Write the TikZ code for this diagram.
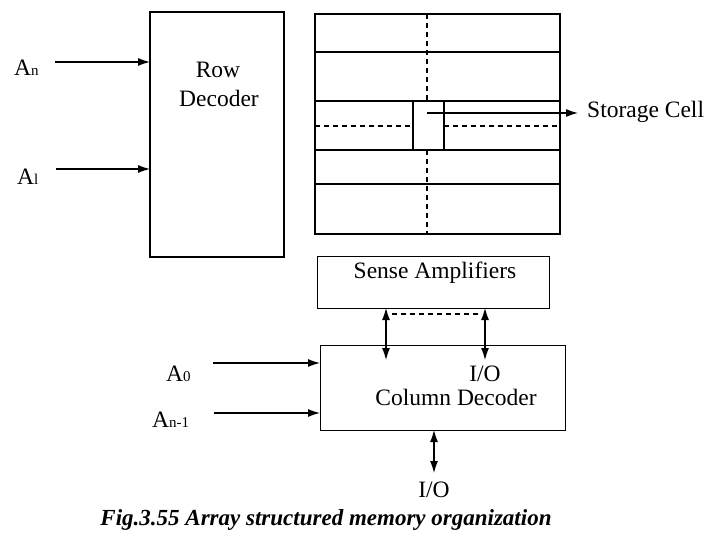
\documentclass[tikz,border=0pt]{standalone}
\usepackage{fontspec}
\setmainfont{Liberation Serif}
\usetikzlibrary{arrows.meta}
\begin{document}
\begin{tikzpicture}[x=1pt,y=-1pt,
  box/.style={draw,line width=1.1pt},
  lbl/.style={inner sep=0pt,font=\fontsize{23.5}{27}\selectfont},
  arr/.style={line width=1.1pt,-{Latex[length=12pt,width=8pt]}},
  darr/.style={line width=1.1pt,{Latex[length=12pt,width=8pt]}-{Latex[length=12pt,width=8pt]}},
  dsh/.style={line width=1.1pt,dash pattern=on 5pt off 4pt}]
\useasboundingbox (0,0) rectangle (720,540);
% Row decoder
\draw[box] (150,12) rectangle (284,257);
\node[lbl] (row) at (218,70) {Row};
\node[lbl] (dec) at (219,98) {Decoder};
\coordinate (rdA) at (150,62);
\coordinate (rdB) at (150,169);
\node[lbl,anchor=west] (An) at (14,68) {A\fontsize{15}{15}\selectfont n};
\node[lbl,anchor=west] (A1) at (17,177) {A\fontsize{15}{15}\selectfont l};
\coordinate (AnS) at (55,62);
\coordinate (A1S) at (56,169);
\draw[arr] (AnS) -- (rdA);
\draw[arr] (A1S) -- (rdB);
% Memory array
\draw[box] (315,14) rectangle (560,234);
\draw[line width=1.1pt] (315,52) -- (560,52);
\draw[line width=1.1pt] (315,101) -- (560,101);
\draw[line width=1.1pt] (315,150) -- (560,150);
\draw[line width=1.1pt] (315,184) -- (560,184);
\draw[box] (413,101) rectangle (444,150);
\draw[dsh] (427,14) -- (427,101);
\draw[dsh] (427,150) -- (427,234);
\draw[dsh] (315,126) -- (413,126);
\draw[dsh] (444,126) -- (560,126);
\coordinate (cellC) at (427,113);
\node[lbl,anchor=west] (sc) at (587,112) {Storage Cell};
\draw[arr,shorten >=9pt] (cellC) -- (sc.west |- cellC);
% Sense amplifiers
\node[box,minimum width=232pt,minimum height=52pt,inner sep=0pt,anchor=north west] (sa) at (317,256) {};
\node[lbl] (salbl) at (435,273) {Sense Amplifiers};
% Column decoder
\node[box,minimum width=245pt,minimum height=85pt,inner sep=0pt,anchor=north west] (cd) at (320,345) {};
\node[lbl] (io1) at (485,374) {I/O};
\node[lbl] (cdl) at (456,397) {Column Decoder};
\coordinate (saL) at (386,308);
\coordinate (saR) at (485,308);
\coordinate (cdL) at (386,360);
\coordinate (cdR) at (485,360);
\draw[darr] (saL) -- (cdL);
\draw[darr] (saR) -- (cdR);
\draw[dsh] (392,314) -- (479,314);
\node[lbl,anchor=west] (A0) at (166,374) {A\fontsize{15}{15}\selectfont 0};
\node[lbl,anchor=west] (Anm) at (152,420) {A\fontsize{15}{15}\selectfont n-1};
\coordinate (A0S) at (213,363);
\coordinate (AnmS) at (214,413);
\draw[arr] (A0S) -- (cd.west |- A0S);
\draw[arr] (AnmS) -- (cd.west |- AnmS);
\coordinate (cdB) at (434,430);
\coordinate (ioE) at (434,473);
\draw[darr] (cdB) -- (ioE);
\node[lbl] (io2) at (434,490) {I/O};
% caption
\node[inner sep=0pt,font=\fontsize{23}{27}\selectfont\bfseries\itshape] (cap) at (326,520) {Fig.3.55 Array structured memory organization};
\end{tikzpicture}
\end{document}
